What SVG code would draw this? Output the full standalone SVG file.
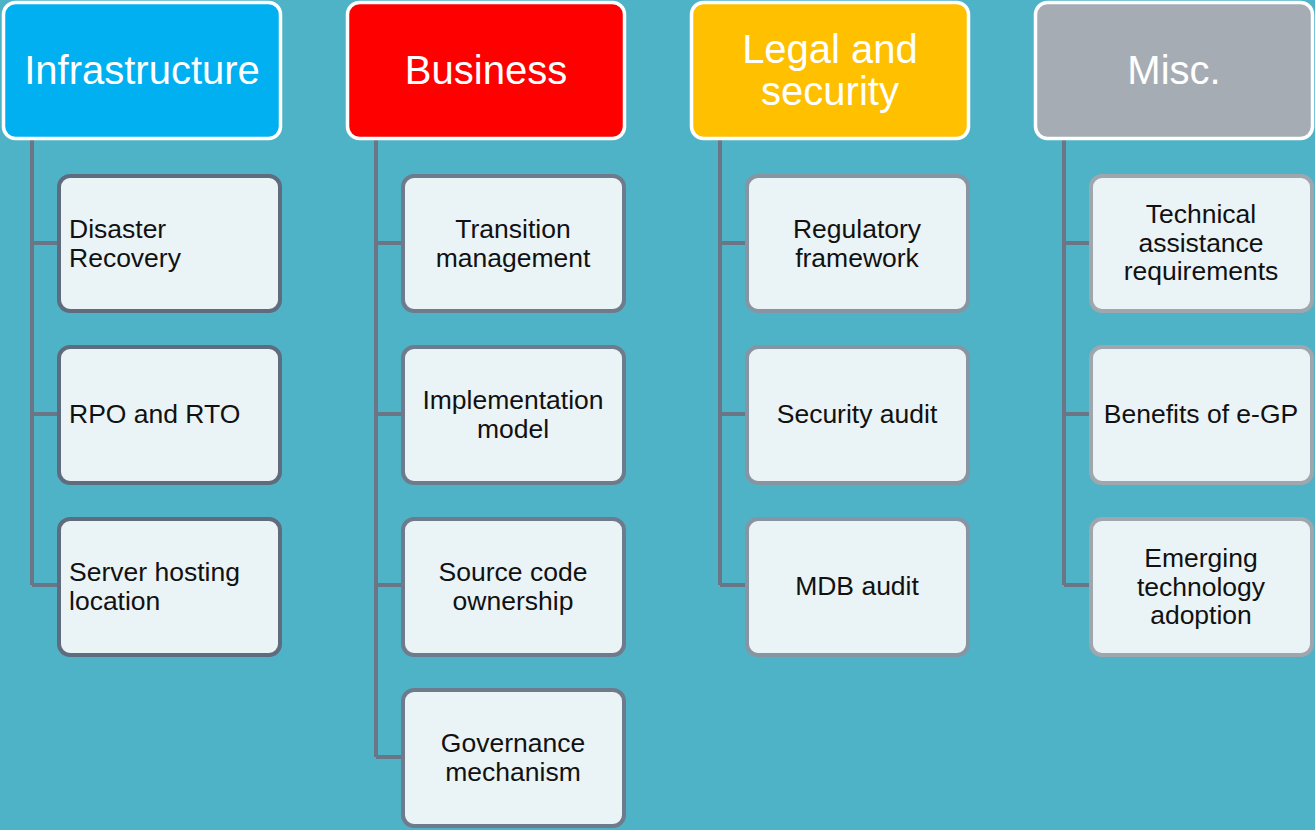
<svg xmlns="http://www.w3.org/2000/svg" width="1315" height="830" viewBox="0 0 1315 830">
<style>
.hdr{stroke:#ffffff;stroke-width:3.5}
.ht{font-family:"Liberation Sans",Arial,sans-serif;font-size:40px;fill:#ffffff;text-anchor:middle}
.box{fill:#eaf3f6;stroke-width:4}
.ct{font-family:"Liberation Sans",Arial,sans-serif;font-size:26.5px;fill:#111111;text-anchor:middle}
.lt{text-anchor:start}
.c1{stroke:#5f6c7e}.c2{stroke:#6e7b8c}.c3{stroke:#8794a2}.c4{stroke:#9ea6ae}
.conn{fill:none;stroke:#6a7586;stroke-width:4}
</style>
<rect width="1315" height="830" fill="#4fb3c7"/>
<g id="connectors">
<path class="conn" d="M32 139V585M32 243H58M32 414H58M32 585H58"/>
<path class="conn" d="M376 139V757M376 243H402M376 414H402M376 585H402M376 757H402"/>
<path class="conn" d="M720 139V585M720 243H746M720 414H746M720 585H746"/>
<path class="conn" d="M1064 139V585M1064 243H1090M1064 414H1090M1064 585H1090"/>
</g>
<g id="infrastructure"><rect class="hdr" x="3.5" y="2.5" width="277" height="136" rx="12" fill="#00b0f0"/><text class="ht" x="142" y="84">Infrastructure</text></g>
<g id="business"><rect class="hdr" x="347.5" y="2.5" width="277" height="136" rx="12" fill="#ff0000"/><text class="ht" x="486" y="84">Business</text></g>
<g id="legal"><rect class="hdr" x="691.5" y="2.5" width="277" height="136" rx="12" fill="#ffc000"/><text class="ht" x="830" y="63">Legal and</text><text class="ht" x="830" y="105">security</text></g>
<g id="misc"><rect class="hdr" x="1035.5" y="2.5" width="277" height="136" rx="12" fill="#a6acb4"/><text class="ht" x="1174" y="84">Misc.</text></g>

<g id="disaster"><rect class="box c1" x="59" y="176" width="221" height="135" rx="11"/><text class="ct lt" x="69" y="238">Disaster</text><text class="ct lt" x="69" y="267">Recovery</text></g>
<g id="rpo"><rect class="box c1" x="59" y="347" width="221" height="136" rx="11"/><text class="ct lt" x="69" y="423">RPO and RTO</text></g>
<g id="server"><rect class="box c1" x="59" y="519" width="221" height="136" rx="11"/><text class="ct lt" x="69" y="581">Server hosting</text><text class="ct lt" x="69" y="610">location</text></g>

<g id="transition"><rect class="box c2" x="403" y="176" width="221" height="135" rx="11"/><text class="ct" x="513" y="238">Transition</text><text class="ct" x="513" y="267">management</text></g>
<g id="implementation"><rect class="box c2" x="403" y="347" width="221" height="136" rx="11"/><text class="ct" x="513" y="409">Implementation</text><text class="ct" x="513" y="438">model</text></g>
<g id="source"><rect class="box c2" x="403" y="519" width="221" height="136" rx="11"/><text class="ct" x="513" y="581">Source code</text><text class="ct" x="513" y="610">ownership</text></g>
<g id="governance"><rect class="box c2" x="403" y="690" width="221" height="136" rx="11"/><text class="ct" x="513" y="752">Governance</text><text class="ct" x="513" y="781">mechanism</text></g>

<g id="regulatory"><rect class="box c3" x="747" y="176" width="221" height="135" rx="11"/><text class="ct" x="857" y="238">Regulatory</text><text class="ct" x="857" y="267">framework</text></g>
<g id="security"><rect class="box c3" x="747" y="347" width="221" height="136" rx="11"/><text class="ct" x="857" y="423">Security audit</text></g>
<g id="mdb"><rect class="box c3" x="747" y="519" width="221" height="136" rx="11"/><text class="ct" x="857" y="595">MDB audit</text></g>

<g id="technical"><rect class="box c4" x="1091" y="176" width="221" height="135" rx="11"/><text class="ct" x="1201" y="223">Technical</text><text class="ct" x="1201" y="252">assistance</text><text class="ct" x="1201" y="280">requirements</text></g>
<g id="benefits"><rect class="box c4" x="1091" y="347" width="221" height="136" rx="11"/><text class="ct" x="1201" y="423">Benefits of e-GP</text></g>
<g id="emerging"><rect class="box c4" x="1091" y="519" width="221" height="136" rx="11"/><text class="ct" x="1201" y="567">Emerging</text><text class="ct" x="1201" y="596">technology</text><text class="ct" x="1201" y="624">adoption</text></g>
</svg>
